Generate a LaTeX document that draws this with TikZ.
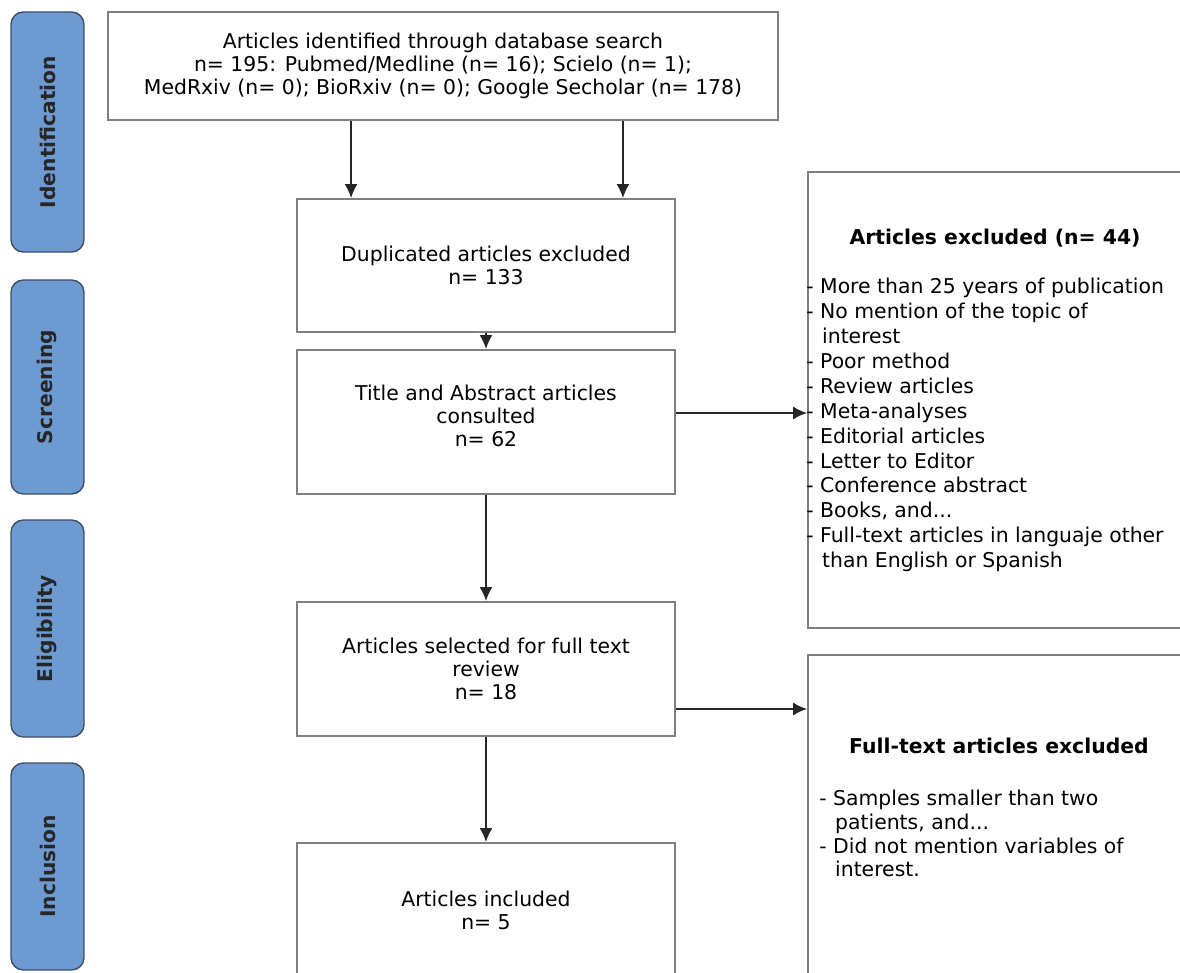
\documentclass[tikz,border=0pt]{standalone}
\usepackage{fontspec}
\setmainfont{DejaVu Sans}
\usetikzlibrary{arrows.meta}

\definecolor{phasefill}{RGB}{110,154,210}
\definecolor{phaseline}{RGB}{62,78,102}
\definecolor{boxgray}{RGB}{128,128,128}

\begin{document}
\begin{tikzpicture}[x=0.02cm, y=-0.02cm, >={Latex[length=2.8mm,width=2.6mm]},
        box/.style={draw=boxgray, line width=1.1pt, fill=white, inner sep=0pt},
        phase/.style={draw=phaseline, fill=phasefill, rounded corners=7pt, line width=0.8pt,
            rotate=90, inner sep=0pt, minimum height=1.46cm,
            font=\bfseries\fontsize{11.5}{13}\selectfont, text=black!85},
        txt/.style={align=center, inner sep=0pt, font=\fontsize{11.6}{13}\selectfont},
        lst/.style={align=left, anchor=west, inner sep=0pt, font=\fontsize{11.6}{14.2}\selectfont},
        arr/.style={->, draw=black!85, line width=0.9pt}]
    \def\cont{\hspace*{9pt}}
    \useasboundingbox (0,0) rectangle (1180,973);
    \clip (0,0) rectangle (1180,973);

    % phases
    \node[phase, minimum width=4.80cm] (ident)  at (47.5,132)   {Identification};
    \node[phase, minimum width=4.28cm] (screen) at (47.5,387)   {Screening};
    \node[phase, minimum width=4.34cm] (elig)   at (47.5,628.5) {Eligibility};
    \node[phase, minimum width=4.14cm] (inclph) at (47.5,866.5) {Inclusion};

    % main column
    \node[box, txt, minimum width=13.4cm, minimum height=2.16cm] (search) at (443,66) {Articles identified through database search\\
        n= 195: Pubmed/Medline (n= 16); Scielo (n= 1);\\
        MedRxiv (n= 0); BioRxiv (n= 0); Google Secholar (n= 178)};

    \node[box, txt, minimum width=7.56cm, minimum height=2.66cm] (dup) at (486,265.5) {Duplicated articles excluded\\n= 133};

    \node[box, minimum width=7.56cm, minimum height=2.88cm] (title) at (486,422) {};
    \node[txt] (titletxt) at (486,416) {Title and Abstract articles\\consulted\\n= 62};

    \node[box, txt, minimum width=7.56cm, minimum height=2.68cm] (sel) at (486,669) {Articles selected for full text\\review\\n= 18};

    \node[box, txt, minimum width=7.56cm, minimum height=2.68cm] (incl) at (486,910) {Articles included\\n= 5};

    % exclusion boxes
    \node[box, minimum width=7.84cm, minimum height=9.12cm] (excl) at (1004,400) {};
    \node[txt, font=\bfseries\fontsize{11.6}{13}\selectfont] (excltitle) at (995,238) {Articles excluded (n= 44)};
    \node[lst] (excllist) at (806,425) {- More than 25 years of publication\\
        - No mention of the topic of\\
        \cont interest\\
        - Poor method\\
        - Review articles\\
        - Meta-analyses\\
        - Editorial articles\\
        - Letter to Editor\\
        - Conference abstract\\
        - Books, and...\\
        - Full-text articles in languaje other\\
        \cont than English or Spanish};

    \node[box, minimum width=7.84cm, minimum height=6.9cm] (fexcl) at (1004,827.5) {};
    \node[txt, font=\bfseries\fontsize{11.6}{13}\selectfont] (fexcltitle) at (999,746) {Full-text articles excluded};
    \node[lst, font=\fontsize{11.6}{13.6}\selectfont] (fexcllist) at (819,833.5) {- Samples smaller than two\\
        \cont patients, and...\\
        - Did not mention variables of\\
        \cont interest.};

    % connectors
    \coordinate (d1) at ([xshift=1.1cm]dup.north west);
    \coordinate (d2) at ([xshift=-1.06cm]dup.north east);
    \draw[arr] (d1 |- search.south) -- (d1);
    \draw[arr] (d2 |- search.south) -- (d2);
    \draw[arr] (dup) -- (title);
    \draw[arr] (title) -- (sel);
    \draw[arr] (sel) -- (incl);
    \coordinate (e1) at ([yshift=0.18cm]title.east);
    \coordinate (e2) at ([yshift=-0.8cm]sel.east);
    \draw[arr] (e1) -- (e1 -| excl.west);
    \draw[arr] (e2) -- (e2 -| fexcl.west);
\end{tikzpicture}
\end{document}
